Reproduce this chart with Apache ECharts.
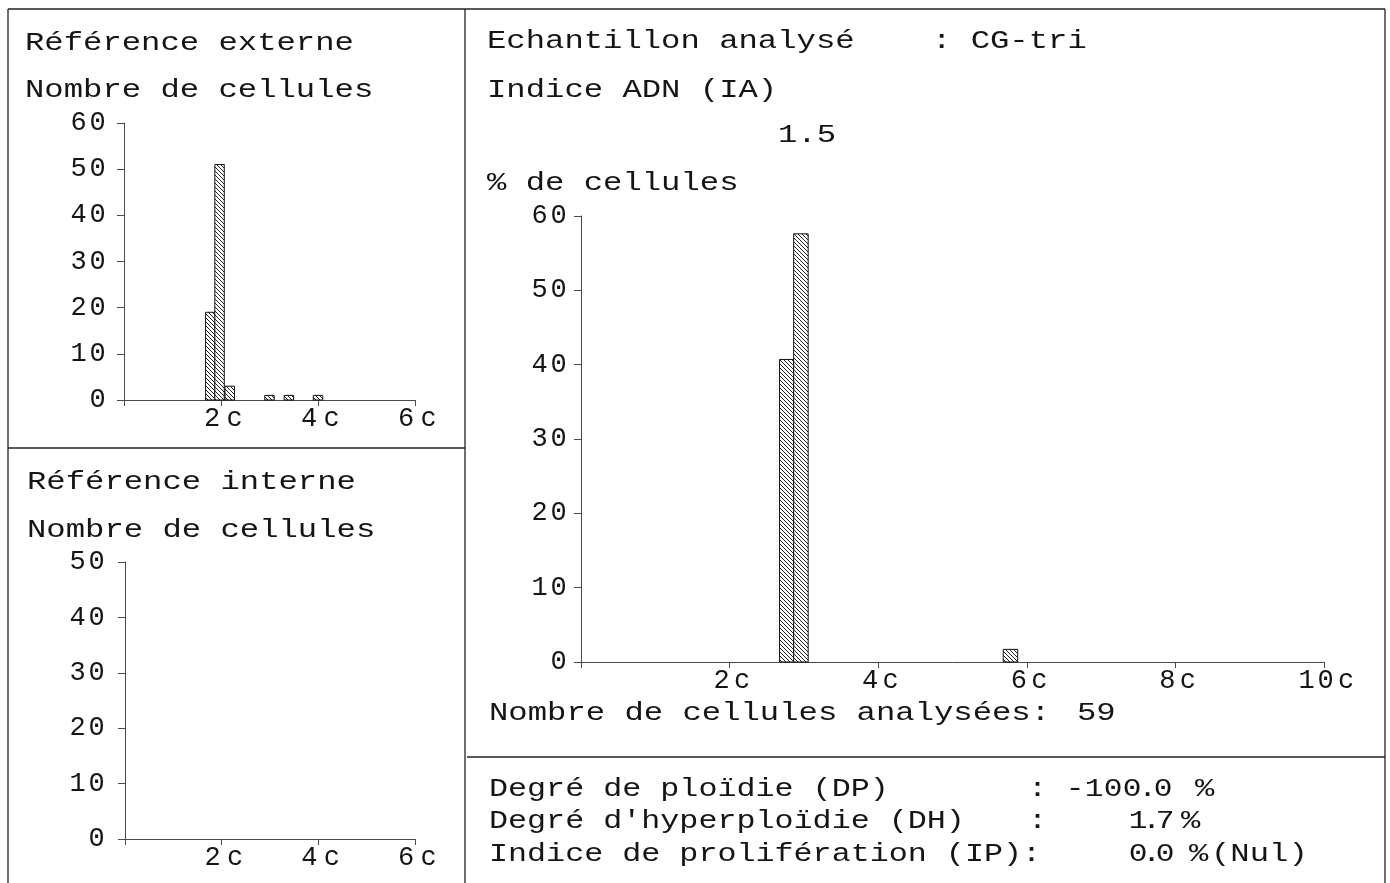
<!DOCTYPE html>
<html>
<head>
<meta charset="utf-8">
<script src="https://cdn.jsdelivr.net/npm/echarts@6/dist/echarts.min.js"></script>
<style>
  html, body { margin: 0; padding: 0; background: #fff; }
  #chart { width: 1390px; height: 883px; }
</style>
</head>
<body>
<div id="chart"></div>
<script>
// External reference: DNA content (in c units) of bin centres and cell counts
const extBinCentres = [1.78, 1.97, 2.18, 3.0, 3.4, 4.0];
const extCounts = [19, 51, 3, 1, 1, 1];
// Internal reference: no cells recorded
const intBinCentres = [];
const intCounts = [];
// Analysed sample: bin centres (c) and percentage of cells
const sampleBinCentres = [2.77, 2.96, 5.78];
const samplePercent = [40.7, 57.6, 1.7];
const binWidth = 0.195;

// Text content
const sampleName = 'CG-tri';
const dnaIndex = '1.5';
const cellsAnalysed = '59';
const statLabels = ['Degré de ploïdie (DP)', "Degré d'hyperploïdie (DH)", 'Indice de prolifération (IP):'];
const statValues = ['-100.0', '1.7', '0.0'];

const FONT = '"Liberation Mono", "DejaVu Sans Mono", monospace';
const INK = '#151515';
const AXIS = '#4a4a4a';

// diagonal hatch used to fill histogram bars
function hatch(step) {
  const c = document.createElement('canvas');
  c.width = step; c.height = step;
  const g = c.getContext('2d');
  g.fillStyle = '#fff';
  g.fillRect(0, 0, step, step);
  g.strokeStyle = '#222';
  g.lineWidth = 1;
  g.beginPath();
  g.moveTo(-1, -1); g.lineTo(step + 1, step + 1);
  g.moveTo(-1, step - 1); g.lineTo(1, step + 1);
  g.moveTo(step - 1, -1); g.lineTo(step + 1, 1);
  g.stroke();
  return { image: c, repeat: 'repeat' };
}
const hatchFill = hatch(4);

function barRender(params, api) {
  const x = api.value(0), v = api.value(1);
  const p0 = api.coord([x - binWidth / 2, 0]);
  const p1 = api.coord([x + binWidth / 2, v]);
  return {
    type: 'rect',
    shape: { x: p0[0], y: p1[1], width: p1[0] - p0[0], height: p0[1] - p1[1] },
    style: { fill: hatchFill, stroke: '#111', lineWidth: 1 }
  };
}

function pairs(xs, ys) { return xs.map((x, i) => [x, ys[i]]); }

// fixed-pitch digits for tick labels
function cells(s) { return String(s).split('').map(ch => '{d|' + ch + '}').join(''); }
const digitStyle = { fontFamily: FONT, fontSize: 27, color: INK, width: 19, align: 'center' };

function xAxisDef(grid, max, unitWidth, lead) {
  return {
    type: 'value', gridIndex: grid, min: 0, max: max, interval: 2,
    axisLine: { show: true, onZero: false, lineStyle: { color: AXIS, width: 1 } },
    axisTick: { show: true, length: 6, lineStyle: { color: AXIS } },
    splitLine: { show: false },
    axisLabel: {
      formatter: v => v === 0 ? '' : '{p|}' + cells(v) + '{u|c}',
      margin: 5, color: INK,
      rich: {
        p: { width: lead },
        d: digitStyle,
        u: { fontFamily: FONT, fontSize: 27, color: INK, width: unitWidth, align: 'center' }
      }
    }
  };
}

function yAxisDef(grid, max, margin) {
  return {
    type: 'value', gridIndex: grid, min: 0, max: max, interval: 10,
    axisLine: { show: true, lineStyle: { color: AXIS, width: 1 } },
    axisTick: { show: true, length: 7, lineStyle: { color: AXIS } },
    splitLine: { show: false },
    axisLabel: { formatter: v => cells(v), margin: margin, rich: { d: digitStyle } }
  };
}

function T(text, x, y, sx) {
  return {
    type: 'text', x: x, y: y, scaleX: sx || 1.24, z: 10,
    style: { text: text, font: '26px ' + FONT, fill: INK, align: 'left', verticalAlign: 'middle' }
  };
}
// numeric value with a narrow decimal point; firstCentre is the centre of the first character
function N(str, firstCentre, y, dotAdv) {
  const out = [];
  let cx = firstCentre, prevAdv = null;
  str.split('').forEach(ch => {
    const adv = ch === '.' ? dotAdv : 19;
    if (prevAdv !== null) cx += (prevAdv + adv) / 2;
    out.push({
      type: 'text', x: cx, y: y, scaleX: 1.2, z: 10,
      style: { text: ch, font: '26px ' + FONT, fill: INK, align: 'center', verticalAlign: 'middle' }
    });
    prevAdv = adv;
  });
  return out;
}
function L(x1, y1, x2, y2) {
  return {
    type: 'line', z: 5,
    shape: { x1: x1, y1: y1, x2: x2, y2: y2 },
    style: { stroke: '#222', lineWidth: 1.3 }
  };
}

const graphics = [
  // frame
  L(8, 9, 1385, 9), L(8, 9, 8, 883), L(465, 9, 465, 883), L(1385, 9, 1385, 883),
  L(8, 448, 465, 448), L(467, 757, 1385, 757),
  // left panels
  T('Référence externe', 25, 43),
  T('Nombre de cellules', 25, 90),
  T('Référence interne', 27, 482),
  T('Nombre de cellules', 27, 530),
  // sample panel
  T('Echantillon analysé    : ' + sampleName, 487, 41),
  T('Indice ADN (IA)', 487, 90),
  T(dnaIndex, 778, 135),
  T('% de cellules', 487, 183),
  T('Nombre de cellules analysées:', 489, 713),
  T(cellsAnalysed, 1077, 713),
  // statistics
  T(statLabels[0], 489, 789, 1.22), T(':', 1028, 789, 1.22), T('%', 1195, 789),
  T(statLabels[1], 489, 821, 1.22), T(':', 1028, 821, 1.22), T('%', 1181, 821),
  T(statLabels[2], 489, 854, 1.22), T('%', 1189, 854), T('(Nul)', 1211, 854)
].concat(
  N(statValues[0], 1075, 789, 12),
  N(statValues[1], 1138, 821, 8),
  N(statValues[2], 1138, 854, 8)
);

const chart = echarts.init(document.getElementById('chart'), null, { renderer: 'canvas' });
chart.setOption({
  backgroundColor: '#fff',
  animation: false,
  textStyle: { fontFamily: FONT },
  grid: [
    { left: 124, top: 123, width: 291, height: 277 },
    { left: 125, top: 562, width: 290, height: 277 },
    { left: 581, top: 216, width: 743, height: 446 }
  ],
  xAxis: [xAxisDef(0, 6, 26, 8), xAxisDef(1, 6, 26, 8), xAxisDef(2, 10, 22, 6)],
  yAxis: [yAxisDef(0, 60, 17), yAxisDef(1, 50, 19), yAxisDef(2, 60, 13)],
  series: [
    { type: 'custom', xAxisIndex: 0, yAxisIndex: 0, renderItem: barRender, data: pairs(extBinCentres, extCounts) },
    { type: 'custom', xAxisIndex: 1, yAxisIndex: 1, renderItem: barRender, data: pairs(intBinCentres, intCounts) },
    { type: 'custom', xAxisIndex: 2, yAxisIndex: 2, renderItem: barRender, data: pairs(sampleBinCentres, samplePercent) }
  ],
  graphic: graphics
});
</script>
</body>
</html>
